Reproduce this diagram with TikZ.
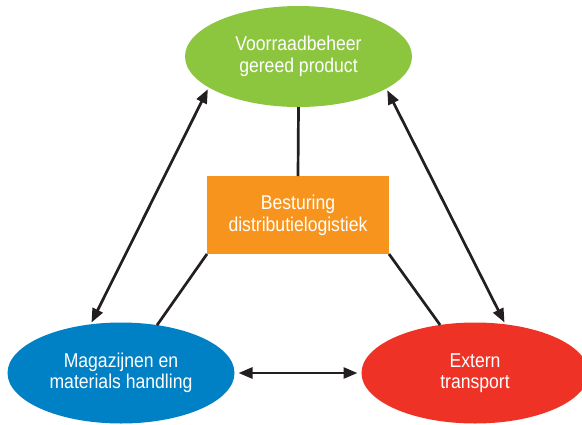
\documentclass[tikz,border=0pt]{standalone}
\usepackage{fontspec}
\setmainfont{Liberation Sans}[FakeStretch=0.88]
\usetikzlibrary{shapes.geometric,arrows.meta}
\definecolor{cgreen}{HTML}{8CC63F}
\definecolor{corange}{HTML}{F7941D}
\definecolor{cblue}{HTML}{0080C5}
\definecolor{cred}{HTML}{EE3326}
\definecolor{cline}{HTML}{231F20}
\begin{document}
\begin{tikzpicture}[x=1pt,y=-1pt,
  bubble/.style={ellipse, minimum width=227pt, minimum height=101pt, inner sep=0pt, outer sep=0pt,
    text=white, align=center, font=\fontsize{20}{21.5}\selectfont},
  box/.style={rectangle, fill=corange, minimum width=182pt, minimum height=78pt, inner sep=0pt, outer sep=0pt,
    text=white, align=center, font=\fontsize{20}{22}\selectfont},
  link/.style={draw=cline, line width=2.7pt},
  dbl/.style={draw=cline, line width=2.7pt, {Triangle[length=14pt,width=11pt]}-{Triangle[length=14pt,width=11pt]}}]
\useasboundingbox (0,0) rectangle (582,424);
\clip (0,0) rectangle (582,424);
\node[bubble, fill=cgreen] (g) at (298.5,56.5) {Voorraadbeheer\\gereed product};
\node[bubble, fill=cblue] (b) at (121,373) {Magazijnen en\\materials handling};
\node[bubble, fill=cred] (r) at (475,373) {Extern\\transport};
\node[box] (o) at (298,215) {Besturing\\distributielogistiek};
\draw[link] (g.south) -- (o.north);
\draw[link] (o.south west) -- (b.53);
\draw[link] (o.south east) -- (r.126);
\draw[dbl, shorten <=2pt, shorten >=2pt] (g.199.6) -- (b.122.9);
\draw[dbl, shorten <=2pt, shorten >=2pt] (g.340.2) -- (r.58.1);
\draw[dbl, shorten <=4pt, shorten >=4pt] (b.east) -- (r.west);
\end{tikzpicture}
\end{document}
